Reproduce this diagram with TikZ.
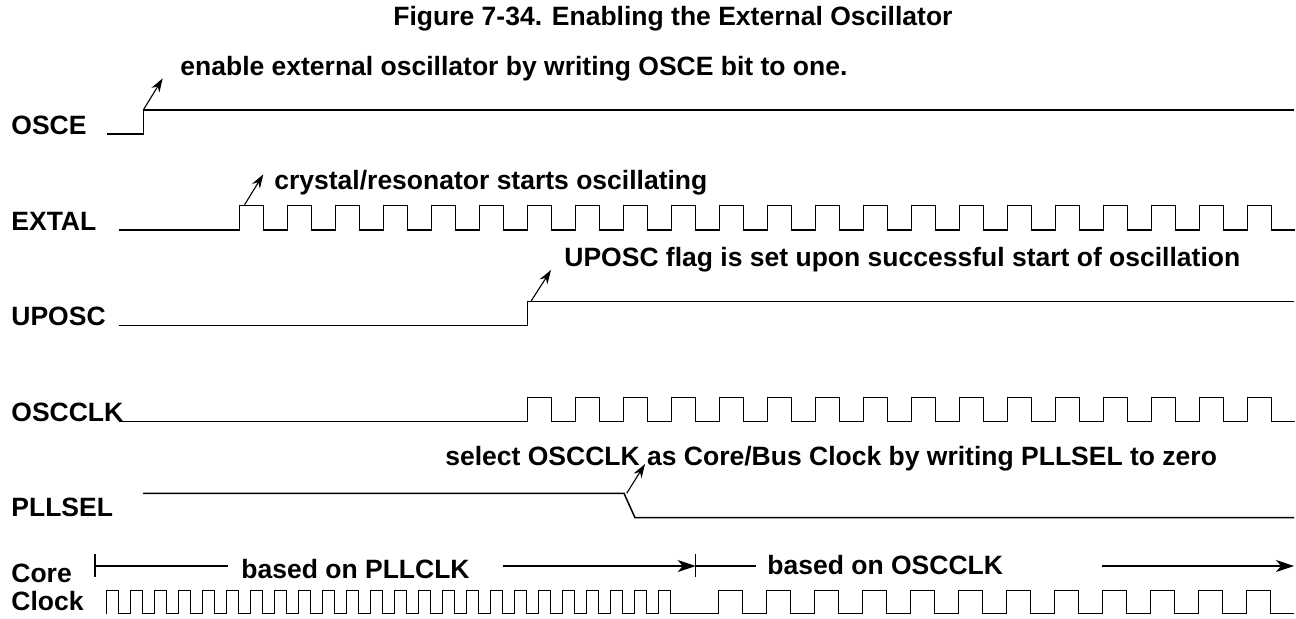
\documentclass[tikz,border=0pt]{standalone}
\usepackage{fontspec}
\setmainfont{Liberation Sans}
\usetikzlibrary{arrows.meta}
\tikzset{
  wave/.style={line width=0.75pt, line join=miter},
  note/.style={font=\fontsize{13.25}{15}\selectfont\bfseries, inner sep=0pt, anchor=base west},
  pointer/.style={line width=0.55pt, -{Stealth[length=7pt,width=4.6pt]}},
  span/.style={line width=0.55pt},
  spanarrow/.style={line width=0.55pt, -{Stealth[length=9pt,width=6pt,inset=2.5pt]}}
}
\begin{document}
\begin{tikzpicture}[x=0.5pt, y=-0.5pt]
    \useasboundingbox (0,0) rectangle (1296,618);
    % title
    \node[note] (title) at (393,25) {Figure 7-34. Enabling the External Oscillator};
    % signal names
    \node[note] (losce) at (11,134) {OSCE};
    \node[note] (lextal) at (11,230) {EXTAL};
    \node[note] (luposc) at (11,325) {UPOSC};
    \node[note] (loscclk) at (11,421) {OSCCLK};
    \node[note] (lpllsel) at (11,516) {PLLSEL};
    \node[note] (lcore) at (11,582) {Core};
    \node[note] (lclock) at (11,610) {Clock};

    % waveforms
    \draw[wave] (106.7,134) -- (143.3,134) -- (143.3,110) -- (1294,110);
    \draw[wave] (119,230) -- (239.3,230)
      \foreach \k in {0,...,21} { -- ++(0,-24.3) -- ++(24,0) -- ++(0,24.3) -- ++(24,0) };
    \draw[wave] (119,325.7) -- (527.3,325.7) -- (527.3,301.7) -- (1294,301.7);
    \draw[wave] (119,421.7) -- (527.3,421.7)
      \foreach \k in {0,...,15} { -- ++(0,-24.4) -- ++(24,0) -- ++(0,24.4) -- ++(24,0) };
    \draw[wave] (143,493.3) -- (624,493.3) -- (635,517.7) -- (1294,517.7);
    % core clock: PLLCLK, then OSCCLK
    \draw[wave] (106.7,613.7)
      \foreach \k in {0,...,23} { -- ++(0,-23.2) -- ++(12,0) -- ++(0,23.2) -- ++(12,0) }
      -- (718.3,613.7)
      \foreach \k in {0,...,11} { -- ++(0,-23.2) -- ++(24,0) -- ++(0,23.2) -- ++(24,0) };

    % notes with pointers
    \node[note] (txtosce) at (180,75) {enable external oscillator by writing OSCE bit to one.};
    \coordinate (osceup) at (143.3,110);
    \coordinate (oscetip) at (162.7,78.3);
    \draw[pointer] (osceup) -- (oscetip);

    \node[note] (txtextal) at (274,189) {crystal/resonator starts oscillating};
    \coordinate (extalup) at (244,205.7);
    \coordinate (extaltip) at (263.3,174.3);
    \draw[pointer] (extalup) -- (extaltip);

    \node[note] (txtuposc) at (564,266) {UPOSC flag is set upon successful start of oscillation};
    \coordinate (uposcup) at (530.7,301.7);
    \coordinate (uposctip) at (551,270);
    \draw[pointer] (uposcup) -- (uposctip);

    \node[note] (txtpllsel) at (445,465) {select OSCCLK as Core/Bus Clock by writing PLLSEL to zero};
    \coordinate (pllseldn) at (626.7,493.3);
    \coordinate (pllseltip) at (645,464);
    \draw[pointer] (pllseldn) -- (pllseltip);

    % clock source spans
    \coordinate (spanA) at (95,566);
    \coordinate (spanAend) at (228,566);
    \coordinate (spanB) at (502.7,566);
    \coordinate (spanC) at (695.7,566);
    \coordinate (spanCend) at (756,566);
    \coordinate (spanD) at (1102,566);
    \coordinate (spanE) at (1294,566);
    \draw[span] (95,554) -- (95,577);
    \draw[span] (695.7,554) -- (695.7,577);
    \node[note] (basepll) at (241,578) {based on PLLCLK};
    \node[note] (baseosc) at (767,574) {based on OSCCLK};
    \draw[span] (spanA) -- (spanAend);
    \draw[spanarrow] (spanB) -- (spanC);
    \draw[span] (spanC) -- (spanCend);
    \draw[spanarrow] (spanD) -- (spanE);
\end{tikzpicture}
\end{document}
